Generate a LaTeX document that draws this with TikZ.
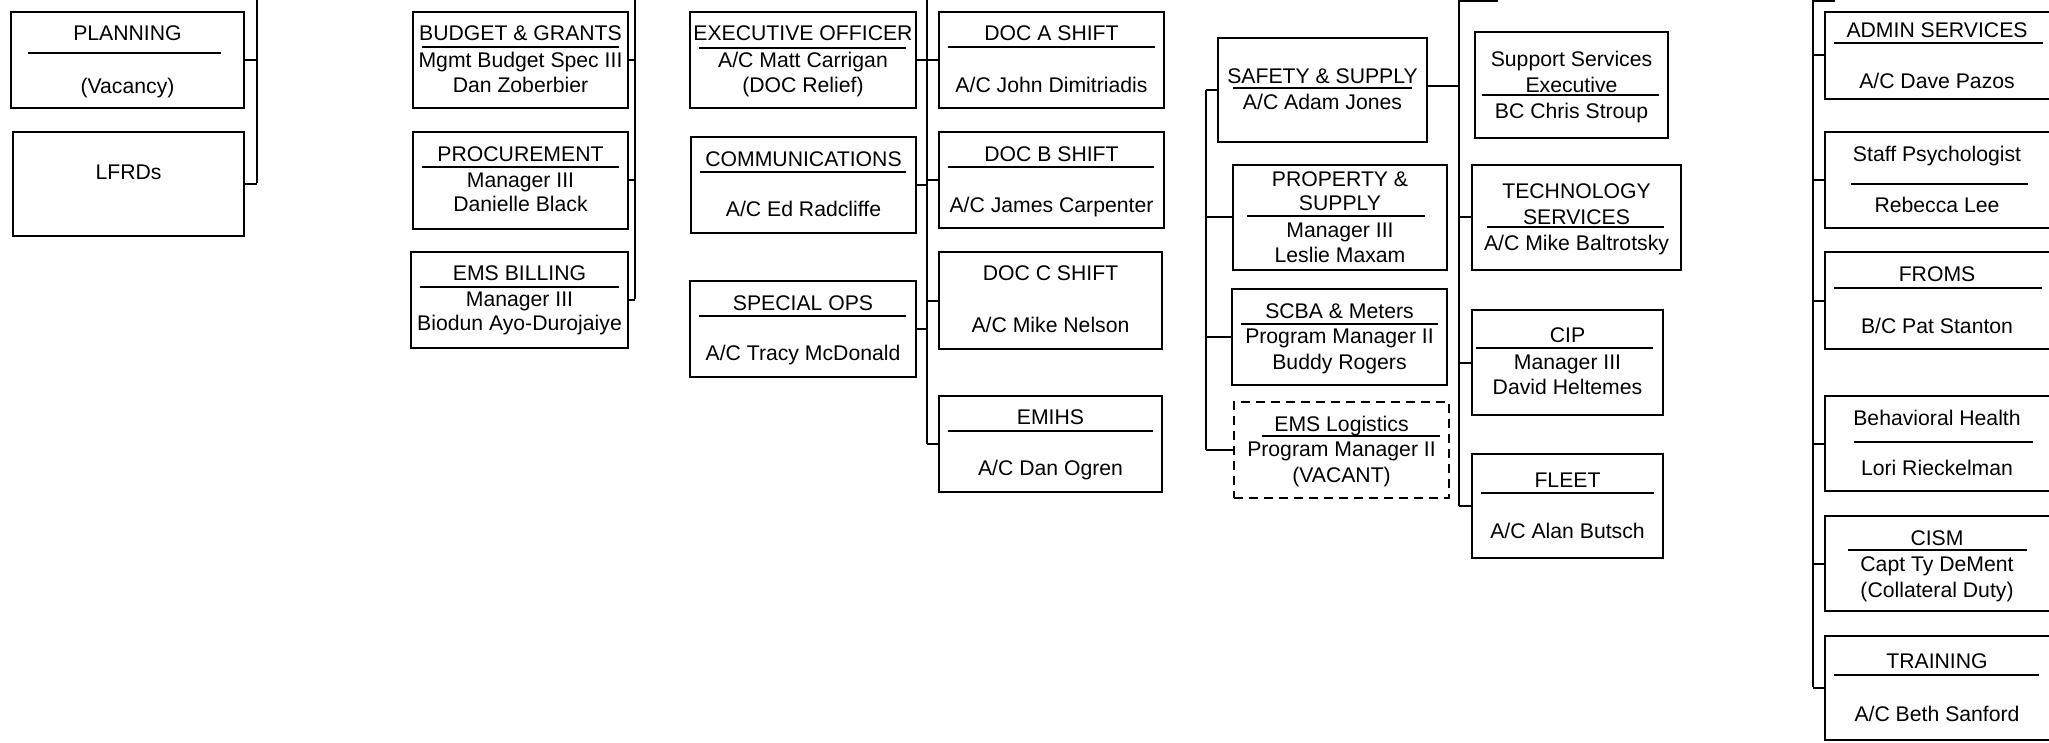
\documentclass[tikz,border=0pt]{standalone}
\usepackage{fontspec}
\setmainfont{Liberation Sans}
\newcommand\obox[6]{\node[box,#6,minimum width={#4-#2},minimum height={#5-#3}] (#1) at ({(#2+#4)/2},{(#3+#5)/2}) {};}
\newcommand\otx[4]{\node[txt] (#1) at (#2,#3) {#4};}
\newcommand\osep[3]{\draw[sepline] (#1,#3) -- (#2,#3);}
\begin{document}
\begin{tikzpicture}[x=1pt,y=-1pt,
  box/.style={draw,line width=1.5pt,inner sep=0pt,rectangle},
  vac/.style={dash pattern=on 9pt off 6pt},
  txt/.style={inner sep=0pt,text height=15.2pt,text depth=0pt,font=\fontsize{21.2}{25}\selectfont},
  sepline/.style={line width=1.5pt},
  conn/.style={line width=2pt},
  busthick/.style={line width=2.6pt}]
\useasboundingbox (0,0) rectangle (2049,743);

% ---------- bus coordinates ----------
\coordinate (busA-top) at (257,-5);  \coordinate (busA-bot) at (257,183);
\coordinate (busB-top) at (635,-5);  \coordinate (busB-bot) at (635,299);
\coordinate (busC-top) at (927,-5);  \coordinate (busC-bot) at (927,444);
\coordinate (busD-top) at (1206,90); \coordinate (busD-bot) at (1206,450);
\coordinate (busE-top) at (1459,0.8);  \coordinate (busE-bot) at (1459,506);
\coordinate (busE-end) at (1498,0.8);
\coordinate (busF-top) at (1813,0.8);  \coordinate (busF-bot) at (1813,687);
\coordinate (busF-end) at (1835,0.8);

% ---------- column 1 ----------
\obox{plan}{11}{12}{244}{108}{}
\osep{28}{221}{53}
\otx{plan-a}{127.5}{33}{PLANNING}
\otx{plan-b}{127.5}{86}{(Vacancy)}

\obox{lfrd}{13}{132}{244}{236}{}
\otx{lfrd-a}{128.5}{172}{LFRDs}

% ---------- column 2 ----------
\obox{budget}{413}{12}{628}{108}{}
\osep{422}{619}{47}
\otx{budget-a}{520.5}{33}{BUDGET \& GRANTS}
\otx{budget-b}{520.5}{60}{Mgmt Budget Spec III}
\otx{budget-c}{520.5}{85}{Dan Zoberbier}

\obox{proc}{413}{132}{628}{229}{}
\osep{422}{619}{167}
\otx{proc-a}{520.5}{154}{PROCUREMENT}
\otx{proc-b}{520.5}{180}{Manager III}
\otx{proc-c}{520.5}{204}{Danielle Black}

\obox{emsb}{411}{252}{628}{348}{}
\osep{420}{619}{287}
\otx{emsb-a}{519.5}{273}{EMS BILLING}
\otx{emsb-b}{519.5}{299}{Manager III}
\otx{emsb-c}{519.5}{323}{Biodun Ayo-Durojaiye}

% ---------- column 3 ----------
\obox{exec}{690}{12}{916}{108}{}
\osep{699}{906}{48}
\otx{exec-a}{803}{33}{EXECUTIVE OFFICER}
\otx{exec-b}{803}{60}{A/C Matt Carrigan}
\otx{exec-c}{803}{85}{(DOC Relief)}

\obox{comm}{691}{137}{916}{233}{}
\osep{700}{906}{172}
\otx{comm-a}{803.5}{159}{COMMUNICATIONS}
\otx{comm-b}{803.5}{209}{A/C Ed Radcliffe}

\obox{spec}{690}{281}{916}{377}{}
\osep{699}{906}{316}
\otx{spec-a}{803}{303}{SPECIAL OPS}
\otx{spec-b}{803}{353}{A/C Tracy McDonald}

% ---------- column 4 ----------
\obox{doca}{939}{12}{1164}{108}{}
\osep{948}{1155}{47}
\otx{doca-a}{1051.5}{33}{DOC A SHIFT}
\otx{doca-b}{1051.5}{85}{A/C John Dimitriadis}

\obox{docb}{939}{132}{1164}{228}{}
\osep{948}{1154}{167}
\otx{docb-a}{1051.5}{154}{DOC B SHIFT}
\otx{docb-b}{1051.5}{205}{A/C James Carpenter}

\obox{docc}{939}{252}{1162}{349}{}
\otx{docc-a}{1050.5}{273}{DOC C SHIFT}
\otx{docc-b}{1050.5}{325}{A/C Mike Nelson}

\obox{emihs}{939}{396}{1162}{492}{}
\osep{948}{1153}{431}
\otx{emihs-a}{1050.5}{417}{EMIHS}
\otx{emihs-b}{1050.5}{468}{A/C Dan Ogren}

% ---------- column 5 ----------
\obox{safety}{1218}{38}{1427}{142}{}
\osep{1233}{1412}{88}
\otx{safety-a}{1322.5}{76}{SAFETY \& SUPPLY}
\otx{safety-b}{1322.5}{102}{A/C Adam Jones}

\obox{prop}{1233}{165}{1447}{270}{}
\osep{1247}{1425}{216}
\otx{prop-a}{1340}{179}{PROPERTY \&}
\otx{prop-b}{1340}{203}{SUPPLY}
\otx{prop-c}{1340}{230}{Manager III}
\otx{prop-d}{1340}{255}{Leslie Maxam}

\obox{scba}{1232}{289}{1447}{385}{}
\osep{1241}{1438}{324}
\otx{scba-a}{1339.5}{311}{SCBA \& Meters}
\otx{scba-b}{1339.5}{336}{Program Manager II}
\otx{scba-c}{1339.5}{362}{Buddy Rogers}

\obox{emsl}{1234}{402}{1449}{498}{vac}
\osep{1262}{1440}{436}
\otx{emsl-a}{1341.5}{424}{EMS Logistics}
\otx{emsl-b}{1341.5}{449}{Program Manager II}
\otx{emsl-c}{1341.5}{475}{(VACANT)}

% ---------- column 6 ----------
\obox{supp}{1475}{32}{1668}{138}{}
\osep{1482}{1659}{95}
\otx{supp-a}{1571.5}{59}{Support Services}
\otx{supp-b}{1571.5}{85}{Executive}
\otx{supp-c}{1571.5}{111}{BC Chris Stroup}

\obox{tech}{1472}{165}{1681}{270}{}
\osep{1487}{1664}{227}
\otx{tech-a}{1576.5}{191}{TECHNOLOGY}
\otx{tech-b}{1576.5}{217}{SERVICES}
\otx{tech-c}{1576.5}{243}{A/C Mike Baltrotsky}

\obox{cip}{1472}{310}{1663}{415}{}
\osep{1476}{1653}{348}
\otx{cip-a}{1567.5}{335}{CIP}
\otx{cip-b}{1567.5}{362}{Manager III}
\otx{cip-c}{1567.5}{387}{David Heltemes}

\obox{fleet}{1472}{454}{1663}{558}{}
\osep{1481}{1654}{493}
\otx{fleet-a}{1567.5}{480}{FLEET}
\otx{fleet-b}{1567.5}{531}{A/C Alan Butsch}

% ---------- column 7 ----------
\obox{admin}{1825}{12}{2050}{99}{}
\osep{1834}{2043}{43}
\otx{admin-a}{1937}{30}{ADMIN SERVICES}
\otx{admin-b}{1937}{81}{A/C Dave Pazos}

\obox{staff}{1825}{132}{2050}{228}{}
\osep{1851}{2028}{184}
\otx{staff-a}{1937}{154}{Staff Psychologist}
\otx{staff-b}{1937}{205}{Rebecca Lee}

\obox{froms}{1825}{252}{2050}{349}{}
\osep{1834}{2042}{288}
\otx{froms-a}{1937}{274}{FROMS}
\otx{froms-b}{1937}{326}{B/C Pat Stanton}

\obox{behav}{1825}{396}{2050}{491}{}
\osep{1854}{2033}{442}
\otx{behav-a}{1937}{418}{Behavioral Health}
\otx{behav-b}{1937}{468}{Lori Rieckelman}

\obox{cism}{1825}{516}{2050}{611}{}
\osep{1848}{2027}{550}
\otx{cism-a}{1937}{538}{CISM}
\otx{cism-b}{1937}{564}{Capt Ty DeMent}
\otx{cism-c}{1937}{590}{(Collateral Duty)}

\obox{train}{1825}{636}{2050}{740}{}
\osep{1834}{2039}{675}
\otx{train-a}{1937}{661}{TRAINING}
\otx{train-b}{1937}{714}{A/C Beth Sanford}

% ---------- buses ----------
\draw[conn] (busA-top) -- (busA-bot);
\draw[conn] (busB-top) -- (busB-bot);
\draw[busthick] (busC-top) -- (busC-bot);
\draw[conn] (busD-top) -- (busD-bot);
\draw[conn] (busE-end) -- (busE-top) -- (busE-bot);
\draw[conn] (busF-end) -- (busF-top) -- (busF-bot);

% ---------- connectors ----------
\draw[conn] (plan.east) -- (plan.east -| busA-top);
\draw[conn] (lfrd.east) -- (lfrd.east -| busA-top);
\draw[conn] (budget.east) -- (budget.east -| busB-top);
\draw[conn] (proc.east) -- (proc.east -| busB-top);
\draw[conn] (emsb.east) -- (emsb.east -| busB-top);
\draw[conn] (exec.east) -- (exec.east -| busC-top);
\draw[conn] (comm.east) -- (comm.east -| busC-top);
\draw[conn] (spec.east) -- (spec.east -| busC-top);
\draw[conn] (doca.west) -- (doca.west -| busC-top);
\draw[conn] (docb.west) -- (docb.west -| busC-top);
\draw[conn] (docc.west) -- (docc.west -| busC-top);
\draw[conn] (emihs.west) -- (emihs.west -| busC-top);
\draw[conn] (safety.west) -- (safety.west -| busD-top);
\draw[conn] (prop.west) -- (prop.west -| busD-top);
\draw[conn] (scba.west) -- (scba.west -| busD-top);
\draw[conn] (emsl.west) -- (emsl.west -| busD-top);
\draw[conn] ([yshift=4pt]safety.east) -- ([yshift=4pt]safety.east -| busE-top);
\draw[conn] (tech.west) -- (tech.west -| busE-top);
\draw[conn] (cip.west) -- (cip.west -| busE-top);
\draw[conn] (fleet.west) -- (fleet.west -| busE-top);
\draw[conn] (admin.west) -- (admin.west -| busF-top);
\draw[conn] (staff.west) -- (staff.west -| busF-top);
\draw[conn] (froms.west) -- (froms.west -| busF-top);
\draw[conn] (behav.west) -- (behav.west -| busF-top);
\draw[conn] (cism.west) -- (cism.west -| busF-top);
\draw[conn] (train.west) -- (train.west -| busF-top);
\end{tikzpicture}
\end{document}
